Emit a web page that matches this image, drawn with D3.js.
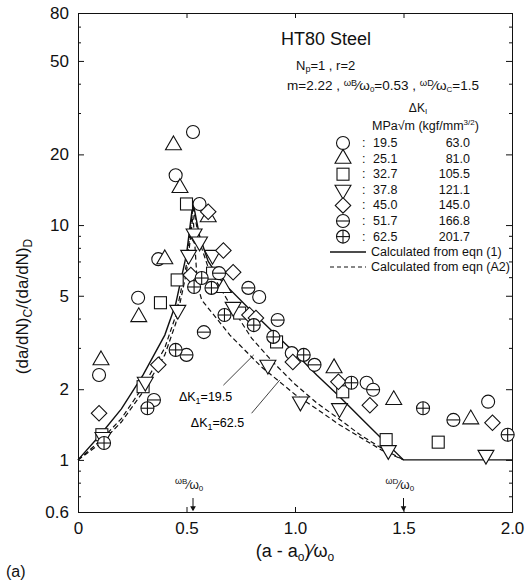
<!DOCTYPE html>
<html>
<head>
<meta charset="utf-8">
<script src="https://cdn.jsdelivr.net/npm/d3@7"></script>
<style>
  body { margin: 0; background: #fff; }
  svg { font-family: "Liberation Sans", "DejaVu Sans", sans-serif; }
  .axis path, .axis line { stroke: #111; stroke-width: 1; }
  .axis text { font-size: 17px; fill: #111; }
</style>
</head>
<body>
<div id="chart"></div>
<script>
// measured points, [x, ratio] per dK series
const pts195 = [[0.097, 2.30], [0.277, 4.9], [0.37, 7.16], [0.45, 16.3], [0.53, 24.9], [0.56, 12.3], [0.835, 4.94], [0.985, 2.85], [1.33, 2.13], [1.89, 1.77]];
const pts251 = [[0.106, 2.66], [0.28, 4.06], [0.40, 7.16], [0.44, 21.9], [0.47, 14.4], [0.60, 10.8], [0.67, 5.4], [1.18, 2.46], [1.455, 1.80], [1.81, 1.49]];
const pts327 = [[0.11, 1.28], [0.30, 2.05], [0.38, 4.67], [0.457, 5.84], [0.50, 12.3], [0.62, 6.24], [0.745, 4.22], [0.915, 3.18], [1.22, 1.95], [1.42, 1.22], [1.66, 1.19]];
const pts378 = [[0.115, 1.25], [0.31, 2.15], [0.46, 4.35], [0.51, 7.46], [0.535, 9.2], [0.56, 8.5], [0.62, 7.46], [0.715, 4.48], [0.875, 2.54], [1.025, 1.77], [1.205, 1.66], [1.43, 1.10], [1.88, 1.05]];
const pts450 = [[0.097, 1.58], [0.37, 2.54], [0.52, 6.13], [0.60, 11.4], [0.67, 7.8], [0.715, 6.3], [0.79, 4.14], [0.82, 4.02], [0.99, 2.61], [1.20, 2.15], [1.345, 1.71], [1.91, 1.44]];
const pts517 = [[0.35, 1.80], [0.50, 2.80], [0.58, 3.50], [0.65, 6.24], [0.785, 5.4], [0.92, 3.94], [1.09, 2.54], [1.36, 1.99], [1.73, 1.48]];
const pts625 = [[0.12, 1.18], [0.32, 1.66], [0.45, 2.94], [0.535, 5.45], [0.57, 5.95], [0.615, 5.4], [0.675, 4.14], [0.81, 3.75], [0.90, 3.34], [1.04, 2.80], [1.26, 2.13], [1.59, 1.66], [1.98, 1.28]];

// calculated curves
const eqn1 = [[0, 1], [0.1, 1.27], [0.2, 1.65], [0.3, 2.3], [0.4, 3.4], [0.45, 4.6], [0.5, 7.5], [0.53, 12.5], [0.56, 9.0], [0.6, 7.0], [0.66, 5.8], [0.8, 4.3], [0.9, 3.5], [1.0, 2.85], [1.1, 2.3], [1.2, 1.88], [1.3, 1.52], [1.4, 1.23], [1.5, 1.0], [2.0, 1.0]];
const eqnA2_195 = [[0, 1], [0.1, 1.2], [0.2, 1.5], [0.3, 2.05], [0.4, 3.0], [0.45, 4.1], [0.5, 6.8], [0.53, 12], [0.56, 8.5], [0.6, 6.6], [0.7, 4.6], [0.8, 3.3], [0.9, 2.6], [1.0, 2.1], [1.1, 1.75], [1.2, 1.5], [1.3, 1.28], [1.4, 1.12], [1.5, 1.0]];
const eqnA2_625 = [[0, 1], [0.1, 1.17], [0.2, 1.45], [0.3, 1.95], [0.4, 2.8], [0.45, 3.8], [0.5, 6.3], [0.53, 11], [0.55, 5.6], [0.57, 4.8], [0.7, 3.4], [0.845, 2.49], [1.0, 1.9], [1.1, 1.65], [1.2, 1.42], [1.3, 1.25], [1.4, 1.1], [1.5, 1.0]];

const symbols = ['circle', 'triangle', 'square', 'tridown', 'diamond', 'theta', 'plus'];
const series = [pts195, pts251, pts327, pts378, pts450, pts517, pts625];
const dkMPa = ['19.5', '25.1', '32.7', '37.8', '45.0', '51.7', '62.5'];
const dkKgf = ['63.0', '81.0', '105.5', '121.1', '145.0', '166.8', '201.7'];

const xTicks = [0, 0.5, 1.0, 1.5, 2.0];
const yMajor = [0.6, 1, 2, 5, 10, 20, 50, 80];
const yMinor = [0.7, 0.8, 0.9, 3, 4, 6, 7, 8, 9, 30, 40, 60, 70];

const W = 532, H = 582;
const svg = d3.select('#chart').append('svg')
    .attr('width', W)
    .attr('height', H);

const x = d3.scaleLinear().domain([0, 2]).range([78, 512]);
const y = d3.scaleLog().domain([0.6, 80]).range([512, 13]);

// axes, ticks pointing inwards
svg.append('g').attr('class', 'axis')
    .attr('transform', `translate(0,${y(0.6)})`)
    .call(d3.axisBottom(x).tickValues(xTicks).tickSize(-5).tickPadding(10)
        .tickFormat(d => d === 0 ? '0' : d3.format('.1f')(d)));
svg.append('g').attr('class', 'axis')
    .attr('transform', `translate(0,${y(80)})`)
    .call(d3.axisTop(x).tickValues(xTicks).tickSize(-5).tickFormat(''));
svg.append('g').attr('class', 'axis')
    .attr('transform', `translate(${x(0)},0)`)
    .call(d3.axisLeft(y).tickValues(yMajor).tickSize(-6).tickPadding(9)
        .tickFormat(d => d === 0.6 ? '0.6' : d));
svg.append('g').attr('class', 'axis')
    .attr('transform', `translate(${x(0)},0)`)
    .call(d3.axisLeft(y).tickValues(yMinor).tickSize(-3).tickFormat(''));
svg.append('g').attr('class', 'axis')
    .attr('transform', `translate(${x(2)},0)`)
    .call(d3.axisRight(y).tickValues(yMajor).tickSize(-6).tickFormat(''));
svg.append('g').attr('class', 'axis')
    .attr('transform', `translate(${x(2)},0)`)
    .call(d3.axisRight(y).tickValues(yMinor).tickSize(-3).tickFormat(''));
svg.selectAll('.axis .domain').attr('stroke', '#111');

// curves
const line = d3.line().x(d => x(d[0])).y(d => y(d[1]));
svg.append('path').datum(eqn1).attr('d', line)
    .attr('fill', 'none').attr('stroke', '#111').attr('stroke-width', 1.4);
svg.append('path').datum(eqnA2_195).attr('d', line)
    .attr('fill', 'none').attr('stroke', '#111').attr('stroke-width', 1.2).attr('stroke-dasharray', '5,3');
svg.append('path').datum(eqnA2_625).attr('d', line)
    .attr('fill', 'none').attr('stroke', '#111').attr('stroke-width', 1.2).attr('stroke-dasharray', '5,3');

// marker drawing
function drawMarker(g, kind, cx, cy) {
    const r = 6.5;
    const s = { fill: 'white', stroke: '#111', 'stroke-width': 1.1 };
    function st(el) { Object.entries(s).forEach(([k, v]) => el.attr(k, v)); return el; }
    if (kind === 'circle' || kind === 'theta' || kind === 'plus') {
        st(g.append('circle').attr('cx', cx).attr('cy', cy).attr('r', r));
        if (kind !== 'circle') {
            g.append('line').attr('x1', cx - r).attr('x2', cx + r).attr('y1', cy).attr('y2', cy)
                .attr('stroke', '#111').attr('stroke-width', 1.1);
        }
        if (kind === 'plus') {
            g.append('line').attr('x1', cx).attr('x2', cx).attr('y1', cy - r).attr('y2', cy + r)
                .attr('stroke', '#111').attr('stroke-width', 1.1);
        }
    } else if (kind === 'triangle' || kind === 'tridown') {
        const sym = d3.symbol().type(d3.symbolTriangle).size(110);
        st(g.append('path').attr('d', sym())
            .attr('transform', `translate(${cx},${cy})` + (kind === 'tridown' ? ' rotate(180)' : '')));
    } else if (kind === 'square') {
        st(g.append('rect').attr('x', cx - 6).attr('y', cy - 6).attr('width', 12).attr('height', 12));
    } else if (kind === 'diamond') {
        const sym = d3.symbol().type(d3.symbolSquare).size(120);
        st(g.append('path').attr('d', sym()).attr('transform', `translate(${cx},${cy}) rotate(45)`));
    }
}

const marks = svg.append('g');
series.forEach((pts, i) => {
    pts.forEach(p => drawMarker(marks, symbols[i], x(p[0]), y(p[1])));
});

// legend
const leg = svg.append('g').style('fill', '#111');
leg.append('text').attr('x', 281).attr('y', 45).style('font-size', '18px').text('HT80 Steel');
leg.append('text').attr('x', 296).attr('y', 70).style('font-size', '13px')
    .html('N<tspan font-size="9" dy="2">p</tspan><tspan dy="-2">=1 ,   r=2</tspan>');
leg.append('text').attr('x', 287).attr('y', 90).style('font-size', '13.5px')
    .html('m=2.22 , <tspan font-size="9.5" dy="-4">ω</tspan><tspan font-size="9">B</tspan><tspan dy="4">⁄ω</tspan><tspan font-size="8" dy="2">0</tspan><tspan dy="-2">=0.53 ,  </tspan><tspan font-size="9.5" dy="-4">ω</tspan><tspan font-size="9">D</tspan><tspan dy="4">⁄ω</tspan><tspan font-size="8" dy="2">C</tspan><tspan dy="-2">=1.5</tspan>');
leg.append('text').attr('x', 418).attr('y', 112).attr('text-anchor', 'middle').style('font-size', '12px')
    .html('ΔK<tspan font-size="8" dy="2">I</tspan>');
leg.append('text').attr('x', 372).attr('y', 130).style('font-size', '12.5px')
    .html('MPa√m  (kgf/mm<tspan font-size="8" dy="-5">3/2</tspan><tspan dy="5">)</tspan>');

symbols.forEach((kind, i) => {
    const ly = 143 + i * 15.6;
    drawMarker(leg, kind, 343, ly);
    leg.append('text').attr('x', 362).attr('y', ly + 4).style('font-size', '12.5px').text(':');
    leg.append('text').attr('x', 373).attr('y', ly + 4).style('font-size', '12.5px').text(dkMPa[i]);
    leg.append('text').attr('x', 470).attr('y', ly + 4).attr('text-anchor', 'end').style('font-size', '12.5px').text(dkKgf[i]);
});
leg.append('line').attr('x1', 330).attr('x2', 366).attr('y1', 252).attr('y2', 252)
    .attr('stroke', '#111').attr('stroke-width', 1.3);
leg.append('text').attr('x', 371).attr('y', 256).style('font-size', '12.5px').text('Calculated  from eqn (1)');
leg.append('line').attr('x1', 330).attr('x2', 366).attr('y1', 267).attr('y2', 267)
    .attr('stroke', '#111').attr('stroke-width', 1.2).attr('stroke-dasharray', '4,3');
leg.append('text').attr('x', 371).attr('y', 271).style('font-size', '12.5px').text('Calculated  from eqn (A2)');

// dK annotations
const ann = svg.append('g');
ann.append('text').attr('x', x(0.465)).attr('y', y(1.78)).style('font-size', '12.5px')
    .html('ΔK<tspan font-size="9" dy="3">1</tspan><tspan dy="-3">=19.5</tspan>');
ann.append('line').attr('x1', x(0.67)).attr('y1', y(2.08)).attr('x2', x(0.81)).attr('y2', y(2.8))
    .attr('stroke', '#111').attr('stroke-width', 0.8);
ann.append('text').attr('x', x(0.52)).attr('y', y(1.38)).style('font-size', '12.5px')
    .html('ΔK<tspan font-size="9" dy="3">1</tspan><tspan dy="-3">=62.5</tspan>');
ann.append('line').attr('x1', x(0.80)).attr('y1', y(1.58)).attr('x2', x(0.93)).attr('y2', y(2.19))
    .attr('stroke', '#111').attr('stroke-width', 0.8);

// arrows at wB/w0 and wD/w0
const marksX = [0.53, 1.5];
const markLab = [['B', '0'], ['D', '0']];
marksX.forEach((v, i) => {
    svg.append('line').attr('x1', x(v)).attr('x2', x(v)).attr('y1', y(0.6) - 14).attr('y2', y(0.6) - 2)
        .attr('stroke', '#111').attr('stroke-width', 1);
    svg.append('path').attr('d', d3.symbol().type(d3.symbolTriangle).size(14)())
        .attr('transform', `translate(${x(v)},${y(0.6) - 4}) rotate(180)`).attr('fill', '#111');
    svg.append('text').attr('x', x(v) - 18).attr('y', y(0.6) - 24).style('font-size', '12px').style('fill', '#111')
        .html(`<tspan font-size="9" dy="-4">ω</tspan><tspan font-size="8">${markLab[i][0]}</tspan><tspan dy="5">⁄ω</tspan><tspan font-size="8" dy="2">${markLab[i][1]}</tspan>`);
});

// axis titles
svg.append('text').attr('transform', `translate(28,${y(4.5)}) rotate(-90)`).attr('text-anchor', 'middle')
    .style('font-size', '17px').style('fill', '#111')
    .html('(da/dN)<tspan font-size="12" dy="4">C</tspan><tspan dy="-4">/</tspan><tspan>(da/dN)</tspan><tspan font-size="12" dy="4">D</tspan>');
svg.append('text').attr('x', x(1.0)).attr('y', 557).attr('text-anchor', 'middle')
    .style('font-size', '18px').style('fill', '#111')
    .html('(a - a<tspan font-size="12" dy="4">o</tspan><tspan dy="-4">)</tspan><tspan>⁄ω</tspan><tspan font-size="12" dy="4">o</tspan>');
svg.append('text').attr('x', 6).attr('y', 577).style('font-size', '16px').style('fill', '#111').text('(a)');
</script>
</body>
</html>
